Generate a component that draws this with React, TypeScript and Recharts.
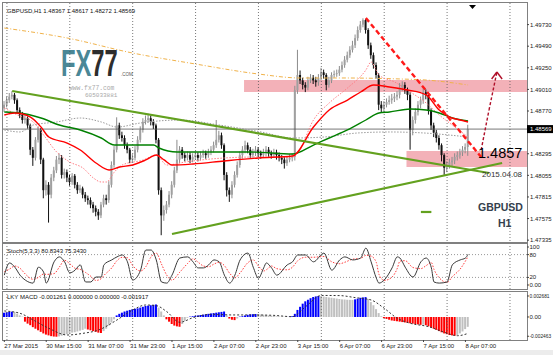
import React from 'react';
import { ComposedChart, Bar, Line, XAxis, YAxis, ReferenceLine, ReferenceArea, Cell } from 'recharts';

// GBPUSD H1, 27 Mar - 8 Apr 2015. prices kept in pips above 1.47000
const SLOTS = 200; // bar slots, incl. the empty shift area on the right
const FIRST_OPEN = 180;

const closePips = [
  184, 189, 193, 195, 189, 178, 173, 167, 169, 161,
  134, 125, 145, 156, 123, 89, 95, 84, 103, 111,
  123, 125, 106, 109, 103, 98, 105, 95, 89, 91,
  84, 80, 78, 73, 69, 65, 61, 73, 80, 78,
  95, 117, 134, 161, 150, 147, 139, 134, 123, 125,
  134, 145, 156, 165, 167, 169, 165, 161, 145, 89,
  61, 67, 73, 84, 95, 111, 123, 134, 128, 125,
  128, 123, 126, 128, 125, 128, 130, 128, 131, 134,
  139, 145, 150, 139, 106, 89, 84, 95, 106, 117,
  128, 134, 139, 134, 128, 131, 134, 130, 128, 131,
  134, 130, 128, 131, 128, 125, 123, 119, 123, 125,
  126, 200, 217, 211, 206, 203, 211, 214, 211, 209,
  214, 220, 217, 206, 211, 217, 218, 219, 223, 228,
  234, 239, 245, 250, 258, 267, 273, 278, 267, 250,
  239, 228, 217, 184, 180, 184, 187, 189, 191, 193,
  195, 203, 206, 200, 195, 156, 167, 176, 184, 189,
  198, 195, 178, 161, 153, 147, 139, 128, 114, 117,
  120, 122, 126, 128, 131, 134, 137, 156.9,
];
const highPips = [
  188, 193, 197, 199, 197, 191, 181, 176, 173, 171,
  163, 137, 148, 160, 158, 125, 100, 98, 107, 115,
  127, 130, 128, 113, 112, 106, 108, 107, 98, 95,
  93, 87, 83, 81, 76, 72, 68, 76, 84, 84,
  99, 121, 138, 170, 164, 154, 150, 142, 136, 129,
  138, 149, 160, 169, 172, 174, 172, 168, 163, 147,
  92, 72, 77, 88, 99, 115, 145, 138, 137, 131,
  132, 131, 130, 132, 131, 132, 134, 133, 135, 138,
  143, 167, 155, 153, 141, 109, 92, 99, 110, 121,
  132, 138, 144, 142, 137, 135, 138, 137, 133, 135,
  138, 137, 133, 135, 134, 131, 128, 126, 127, 129,
  130, 205, 245, 222, 214, 209, 215, 218, 217, 215,
  218, 225, 223, 219, 215, 220, 222, 223, 227, 232,
  238, 243, 249, 255, 262, 271, 277, 280, 279, 269,
  253, 242, 231, 219, 188, 188, 191, 194, 196, 197,
  199, 208, 210, 209, 203, 198, 171, 180, 188, 193,
  202, 201, 198, 180, 164, 156, 150, 141, 130, 121,
  124, 126, 130, 132, 135, 138, 141, 161.7,
];
const lowPips = [
  176, 181, 186, 190, 185, 175, 169, 163, 163, 157,
  128, 116, 122, 142, 118, 80, 83, 53, 80, 99,
  108, 118, 102, 102, 98, 94, 95, 91, 85, 86,
  80, 76, 73, 69, 64, 60, 56, 58, 70, 73,
  75, 92, 114, 131, 146, 143, 135, 130, 119, 120,
  122, 131, 142, 153, 162, 164, 161, 157, 141, 84,
  39, 55, 63, 70, 80, 92, 108, 119, 124, 121,
  122, 119, 120, 123, 121, 122, 125, 124, 125, 128,
  131, 136, 142, 135, 100, 82, 76, 80, 92, 103,
  114, 124, 130, 130, 124, 125, 127, 126, 124, 125,
  127, 126, 124, 125, 123, 121, 118, 113, 116, 120,
  121, 122, 196, 207, 201, 198, 200, 208, 207, 204,
  205, 211, 213, 200, 203, 208, 214, 215, 216, 220,
  225, 231, 236, 242, 247, 255, 264, 270, 263, 246,
  235, 224, 213, 178, 175, 176, 181, 184, 185, 187,
  189, 191, 199, 196, 189, 134, 150, 163, 172, 180,
  185, 190, 173, 156, 148, 142, 134, 121, 106, 109,
  113, 116, 118, 122, 124, 127, 130, 127.2,
];

// moving averages, read at a few bars each
const redMaAt = [0, 4, 10, 14, 17, 24, 29, 35, 40, 44, 49, 54, 58, 61, 64, 72, 84, 97, 110, 118, 124, 131, 136, 141, 147, 154, 161, 166, 170, 174, 177];
const redMa = [172.6, 174.8, 170.3, 159.2, 148.1, 141.4, 133.7, 119.2, 111.5, 114.8, 117, 122.6, 128.1, 122.6, 117, 118.1, 121.5, 124.8, 127, 159.2, 178.1, 189.2, 198.1, 205.9, 203.7, 200.3, 194.8, 178.1, 170.3, 167, 164.8];
const greenMaAt = [0, 6, 14, 21, 29, 37, 42, 49, 57, 59, 66, 75, 94, 110, 118, 124, 131, 138, 143, 147, 155, 161, 166, 171, 177];
const greenMa = [175.9, 174.8, 169.2, 161.4, 155.9, 147, 139.2, 139.2, 139.2, 135.9, 131.4, 131.4, 131.4, 129.2, 139.2, 147, 155.9, 167, 174.8, 175.9, 179.2, 178.1, 174.8, 169.2, 165.9];
const pinkMaAt = [0, 5, 11, 15, 20, 25, 30, 34, 37, 39, 42, 45, 53, 58, 62, 69, 84, 97, 110, 112, 118, 124, 131, 138, 140, 143, 149, 155, 161, 166, 172, 177];
const pinkMa = [180.3, 172.6, 164.8, 150.3, 131.4, 120.3, 113.7, 102.6, 98.1, 98.1, 109.2, 117, 122.6, 128.1, 117, 120.3, 124.8, 125.9, 125.9, 130.3, 167, 185.9, 202.6, 222.5, 231.4, 217, 209.2, 198.1, 185.9, 172.6, 159.2, 148.1];
const grayMaAt = [0, 6, 11, 20, 29, 37, 43, 52, 67, 82, 98, 110, 122, 135, 147, 160, 177];
const grayMa = [155.9, 153.7, 161.4, 164.8, 169.2, 164.8, 159.2, 163.7, 167, 161.4, 153.7, 147, 148.1, 152.6, 153.7, 152.6, 148.1];
const orangeMaAt = [0, 24, 49, 73, 97, 113, 128, 151, 161, 177];
const orangeMa = [269.2, 258.1, 241.4, 229.2, 218.1, 213.7, 213.7, 212.6, 211.4, 205.9];

// Stoch(5,3,3)
const stochAt = [
  0, 2, 4, 6, 8, 11, 13, 15, 16, 19, 21, 23, 25, 27, 29, 31, 33, 35, 37, 38,
  41, 43, 45, 47, 49, 52, 54, 56, 58, 60, 62, 64, 67, 70, 72, 74, 76, 78, 80, 82,
  84, 86, 88, 90, 93, 95, 97, 99, 100, 102, 104, 108, 110, 112, 115, 118, 122, 125, 128, 130,
  133, 136, 138, 140, 142, 143, 145, 148, 150, 151, 153, 156, 159, 161, 163, 164, 166, 169, 171, 174,
  176, 177,
];
const stochMain = [
  26, 58, 47, 26, 13, 5, 47, 34, 5, 61, 74, 61, 32, 39, 53, 8, 8, 21, 21, 53,
  66, 74, 79, 61, 13, 39, 92, 92, 66, 8, 5, 26, 71, 74, 61, 45, 45, 53, 66, 61,
  26, 5, 26, 66, 84, 47, 18, 45, 58, 45, 26, 53, 61, 79, 79, 61, 84, 39, 66, 74,
  66, 71, 97, 61, 18, 5, 13, 45, 74, 71, 47, 21, 61, 71, 45, 8, 5, 8, 53, 66,
  71, 80.8,
];
const stochSignal = [
  35, 42, 50, 44, 29, 15, 20, 29, 28, 30, 47, 65, 56, 44, 41, 33, 23, 12, 17, 25,
  45, 64, 73, 72, 51, 37, 48, 74, 84, 55, 26, 13, 34, 57, 69, 60, 50, 48, 55, 60,
  51, 31, 19, 32, 59, 66, 50, 37, 40, 50, 43, 40, 47, 64, 73, 73, 75, 61, 56, 60,
  68, 70, 78, 76, 59, 28, 12, 21, 44, 63, 64, 46, 43, 51, 59, 41, 19, 7, 22, 42,
  63, 75.3,
];

// LKY MACD, in units of 0.0001
const macdHist = [
  5.5, 6, 6.5, 6.8, 6.5, 4, 2, 0.5,
  -6, -8.5, -10.5, -13, -15, -17, -19, -21, -22.5, -23.5, -24.5, -25, -25.2,
  -24.8, -24, -23, -22, -21, -20, -19.5, -18.5, -17.5, -16.5, -15,
  -16, -17, -18, -19, -20, -20.5,
  -18, -15, -11, -7, -3,
  2, 4, 5.5, 7, 8, 9, 10, 10.5, 11, 12, 13, 14, 14.5, 15, 15.5, 16,
  12, 7, 2,
  -3, -6, -9, -11, -12, -12.5,
  -9, -5, -1,
  0.5, 1, 1.5, 2, 2.5, 3, 3.5, 4, 4.5, 5, 5.5, 6, 6.5, 7,
  2, -2, -3.5, -4, -2,
  0.5, 1, 2, 2.8, 3.4, 3.6, 3.8,
  3.5, 3.2, 2.8, 2.4, 2, 1.6, 1.2, 0.8,
  0.6, 0.4, 0.3, 0.2, 0.3,
  1, 4, 9, 13, 17, 20, 22, 24, 25.5, 26.3, 26.8,
  26.5, 26, 25.5, 25, 24.5, 24, 23.5, 23, 22.5, 22.3, 22, 21.9, 21.8,
  22.5, 23.5, 24.5, 25, 25.4,
  23, 19, 15, 10, 5, 1,
  -1.5, -2.5, -3.5, -4.5, -5, -5.5, -6, -6.5, -7, -7.5, -8, -8.5, -9, -9.5, -10,
  -9.8,
  -10.5, -12, -13.5, -15, -16.5, -18, -19.5, -21, -22, -23, -23.5, -24,
  -23, -21, -18.5, -15.5, -12.6,
];
const macdSignalAt = [0, 6, 11, 17, 24, 30, 36, 43, 49, 54, 58, 62, 67, 72, 79, 87, 94, 102, 110, 115, 121, 128, 134, 140, 145, 150, 155, 162, 168, 173, 177];
const macdSignal = [7.7, 4.7, -3.8, -14.5, -23, -20.9, -16.6, -3.8, 8.9, 15.3, 14.5, 6.8, -6.8, -0.9, 3.4, 2.6, 2.6, 2.2, 0.4, 13.2, 27.5, 27.3, 24.7, 21.7, 11.1, -1.7, -8.1, -12.4, -19.6, -23.9, -21];

// time axis
const dayStarts = [1, 25, 49, 73, 97, 121, 145, 169, 193];
const timeTickAt = [0, 16, 32, 48, 64, 80, 96, 112, 128, 144, 160, 176];
const timeLabels = ['27 Mar 2015', '30 Mar 15:00', '31 Mar 07:00', '31 Mar 23:00', '1 Apr 15:00', '2 Apr 07:00', '2 Apr 23:00', '3 Apr 15:00', '6 Apr 07:00', '6 Apr 23:00', '7 Apr 15:00', '8 Apr 07:00'];

const CURRENT = 1.48569;
const priceTicks = [1.4973, 1.4949, 1.4925, 1.4901, 1.4877, CURRENT, 1.48295, 1.48055, 1.47815, 1.47575, 1.47335];
const stochTicks = [0, 20, 80, 100];
const macdTicks = [-24.63, 0, 26.81];
const macdTickLabels: Record<string, string> = { '-24.63': '-0.002463', '0': '0.00', '26.81': '0.002681' };

// drawn objects (bar index, price); zones run to the right edge
const zoneHigh = { x1: 92, y1: 1.48981, y2: 1.49114 };
const zoneLow = { x1: 154, y1: 1.48148, y2: 1.48326 };
const greenTrends = [
  [{ x: 3, y: 1.48992 }, { x: 185, y: 1.48081 }],
  [{ x: 64, y: 1.47403 }, { x: 190, y: 1.48192 }],
  [{ x: 159, y: 1.47648 }, { x: 163, y: 1.47648 }],
];
const redTrend = [{ x: 138, y: 1.49803 }, { x: 182, y: 1.48259 }];
const arrowPath = [
  [{ x: 182, y: 1.48337 }, { x: 185, y: 1.48781 }],
  [{ x: 185, y: 1.48781 }, { x: 188, y: 1.49203 }],
  [{ x: 186, y: 1.49126 }, { x: 188, y: 1.49203 }],
  [{ x: 190, y: 1.49126 }, { x: 188, y: 1.49203 }],
];

const px = (p: number) => 1.47 + p / 10000;

const rows: any[] = Array.from({ length: SLOTS }, (_, i) => {
  const row: any = { i };
  if (i < closePips.length) {
    row.o = px(i === 0 ? FIRST_OPEN : closePips[i - 1]);
    row.c = px(closePips[i]);
    row.h = px(highPips[i]);
    row.l = px(lowPips[i]);
    row.range = [row.l, row.h];
    row.hist = macdHist[i];
  }
  return row;
});
const put = (at: number[], vals: number[], key: string, f = (v: number) => v) =>
  at.forEach((idx, k) => { rows[idx][key] = f(vals[k]); });
put(redMaAt, redMa, 'maRed', px);
put(greenMaAt, greenMa, 'maGreen', px);
put(pinkMaAt, pinkMa, 'maPink', px);
put(grayMaAt, grayMa, 'maGray', px);
put(orangeMaAt, orangeMa, 'maOrange', px);
put(stochAt, stochMain, 'stMain');
put(stochAt, stochSignal, 'stSig');
put(macdSignalAt, macdSignal, 'mSig');

const histColor = (i: number) => {
  const v = macdHist[i];
  const prev = i > 0 ? macdHist[i - 1] : v;
  if (v >= prev) return v > 0 ? '#0000ff' : '#c0c0c0';
  return v < 0 ? '#ff0000' : '#c0c0c0';
};

const Candle = (props: any) => {
  const { x, y, width, height, payload } = props;
  if (!payload || payload.o == null || y == null) return null;
  const top = Math.min(y, y + height);
  const span = Math.abs(height);
  const rng = payload.h - payload.l;
  const py = (p: number) => top + (rng > 0 ? ((payload.h - p) / rng) * span : 0);
  const up = payload.c >= payload.o;
  const bTop = py(Math.max(payload.o, payload.c));
  const bBot = py(Math.min(payload.o, payload.c));
  const cx = x + width / 2;
  return (
    <g>
      <line x1={cx} x2={cx} y1={top} y2={top + span} stroke={up ? '#8c8c8c' : '#111'} strokeWidth={1} />
      <rect x={x} y={bTop} width={width} height={Math.max(bBot - bTop, 0.8)} fill={up ? '#a0a0a0' : '#111'} />
    </g>
  );
};

const PriceTick = (props: any) => {
  const { x, y, payload } = props;
  const v = payload.value;
  if (v === CURRENT) {
    return (
      <g>
        <rect x={x - 4} y={y - 4} width={27} height={8} fill="#000" />
        <text x={x - 1} y={y + 2.2} fontSize={6} fill="#fff">{v.toFixed(5)}</text>
      </g>
    );
  }
  return <text x={x - 1} y={y + 2.2} fontSize={6} fill="#222">{v.toFixed(5)}</text>;
};

const PlainTick = (props: any) => {
  const { x, y, payload } = props;
  const txt = macdTickLabels[String(payload.value)] ?? String(payload.value);
  const small = txt.length > 5;
  return <text x={x - 1.5} y={y + 2} fontSize={small ? 4.8 : 6} fill="#222">{txt}</text>;
};

const TimeTick = (props: any) => {
  const { x, y, payload } = props;
  const k = timeTickAt.indexOf(payload.value);
  return <text x={x} y={y + 3.5} fontSize={6} fill="#222">{timeLabels[k]}</text>;
};

const dayLines = (key: string) =>
  dayStarts.map((d) => (
    <ReferenceLine key={key + d} x={d} stroke="#555" strokeDasharray="1 2" strokeWidth={0.8} />
  ));

const frame = (top: number, height: number) => (
  <div style={{ position: 'absolute', left: 2, top, width: 526, height, border: '1px solid #808080', boxSizing: 'border-box' }} />
);

export default function App() {
  return (
    <div style={{ position: 'absolute', left: 0, top: 0, width: 553, height: 355, background: '#fff', overflow: 'hidden', fontFamily: '"Liberation Sans", Arial, sans-serif' }}>
      <svg width={553} height={355} style={{ position: 'absolute', left: 0, top: 0 }}>
        <g transform="translate(61,76) scale(0.66,1)">
          <text x={0} y={0} fontSize={36} fontWeight="bold">
            <tspan fill="#4a8796">FX</tspan>
            <tspan fill="#2d2d2d">77</tspan>
          </text>
        </g>
        <text x={121} y={76} fontSize={4.5} fill="#555">.COM</text>
        <text x={69} y={90} fontSize={6.3} fill="#a8a8a8" fontFamily='"Liberation Mono", monospace'>www.fx77.com</text>
        <text x={85} y={97} fontSize={6} fill="#a8a8a8" fontFamily='"Liberation Mono", monospace'>605033881</text>
      </svg>
      <div style={{ position: 'absolute', left: 0, top: 350, width: 553, height: 5, background: '#ececec' }} />
      {frame(2, 241)}
      {frame(243, 47)}
      {frame(291, 50)}

      <div style={{ position: 'absolute', left: 0, top: 0 }}>
        <ComposedChart width={553} height={242} data={rows} margin={{ top: 3, right: 0, bottom: 1, left: 3 }}>
          <XAxis dataKey="i" type="category" scale="band" hide />
          <YAxis orientation="right" width={26} domain={[1.473256, 1.4997]} allowDataOverflow ticks={priceTicks} interval={0}
            tick={<PriceTick />} tickSize={2} tickLine={{ stroke: '#444' }} axisLine={false} />
          <ReferenceArea {...zoneHigh} fill="#f09ea6" fillOpacity={0.8} stroke="none" />
          <ReferenceArea {...zoneLow} fill="#f09ea6" fillOpacity={0.8} stroke="none" />
          {dayLines('m')}
          <ReferenceLine y={CURRENT} stroke="#555" strokeWidth={0.8} />
          <Bar dataKey="range" barSize={2} shape={<Candle />} isAnimationActive={false} />
          <Line dataKey="maOrange" stroke="#f0b24a" strokeWidth={1} strokeDasharray="4 2 1 2" dot={false} activeDot={false} connectNulls type="monotone" isAnimationActive={false} />
          <Line dataKey="maGray" stroke="#9a9a9a" strokeWidth={1} strokeDasharray="1.5 1.5" dot={false} activeDot={false} connectNulls type="monotone" isAnimationActive={false} />
          <Line dataKey="maPink" stroke="#ff7f86" strokeWidth={1} strokeDasharray="1.5 1.5" dot={false} activeDot={false} connectNulls type="monotone" isAnimationActive={false} />
          <Line dataKey="maGreen" stroke="#008000" strokeWidth={1.4} dot={false} activeDot={false} connectNulls type="monotone" isAnimationActive={false} />
          <Line dataKey="maRed" stroke="#ff0000" strokeWidth={1.4} dot={false} activeDot={false} connectNulls type="monotone" isAnimationActive={false} />
          {greenTrends.map((seg, k) => (
            <ReferenceLine key={'g' + k} segment={seg} stroke="#63a11f" strokeWidth={2.2} />
          ))}
          <ReferenceLine segment={redTrend} stroke="#ff1a1a" strokeWidth={2.4} strokeDasharray="5 3" />
          {arrowPath.map((seg, k) => (
            <ReferenceLine key={'a' + k} segment={seg} stroke="#b0102a" strokeWidth={1.4} strokeDasharray={k < 2 ? '3 2' : undefined} />
          ))}
        </ComposedChart>
      </div>

      <div style={{ position: 'absolute', left: 0, top: 243 }}>
        <ComposedChart width={553} height={47} data={rows} margin={{ top: 1, right: 0, bottom: 1, left: 3 }}>
          <XAxis dataKey="i" type="category" scale="band" hide />
          <YAxis orientation="right" width={26} domain={[-10.5, 107.9]} allowDataOverflow ticks={stochTicks} interval={0}
            tick={<PlainTick />} tickSize={2} tickLine={{ stroke: '#444' }} axisLine={false} />
          {dayLines('s')}
          <ReferenceLine y={80} stroke="#999" strokeDasharray="1 2" />
          <ReferenceLine y={20} stroke="#999" strokeDasharray="1 2" />
          <Line dataKey="stSig" stroke="#ff3b3b" strokeWidth={1} strokeDasharray="1.5 1.5" dot={false} activeDot={false} connectNulls type="monotone" isAnimationActive={false} />
          <Line dataKey="stMain" stroke="#3a3a3a" strokeWidth={1} dot={false} activeDot={false} connectNulls type="monotone" isAnimationActive={false} />
        </ComposedChart>
      </div>

      <div style={{ position: 'absolute', left: 0, top: 290 }}>
        <ComposedChart width={553} height={65} data={rows} margin={{ top: 2, right: 0, bottom: 0, left: 3 }}>
          <XAxis dataKey="i" type="category" scale="band" ticks={timeTickAt} interval={0} tick={<TimeTick />}
            tickSize={2} tickLine={{ stroke: '#444' }} axisLine={false} height={15} />
          <YAxis orientation="right" width={26} domain={[-29.4, 31.9]} allowDataOverflow ticks={macdTicks} interval={0}
            tick={<PlainTick />} tickSize={2} tickLine={{ stroke: '#444' }} axisLine={false} />
          {dayLines('d')}
          <Bar dataKey="hist" barSize={2} isAnimationActive={false}>
            {rows.map((r, k) => (
              <Cell key={k} fill={k < macdHist.length ? histColor(k) : 'none'} />
            ))}
          </Bar>
          <Line dataKey="mSig" stroke="#333" strokeWidth={1} strokeDasharray="2 2" dot={false} activeDot={false} connectNulls type="monotone" isAnimationActive={false} />
        </ComposedChart>
      </div>

      <svg width={553} height={355} style={{ position: 'absolute', left: 0, top: 0, pointerEvents: 'none' }}>
        <text x={7} y={12.5} fontSize={6} fill="#111">GBPUSD,H1  1.48367 1.48617 1.48272 1.48569</text>
        <text x={7} y={253} fontSize={6} fill="#111">Stoch(5,3,3) 80.8343 75.3430</text>
        <text x={7} y={299} fontSize={6} fill="#111">LKY MACD -0.001261 0.000000 0.000000 -0.001917</text>
        <polygon points="469,5 476,5 472.5,9" fill="#000" />
        <text x={478} y={158} fontSize={14.5} fill="#000">1.4857</text>
        <text x={482} y={177} fontSize={8} fill="#333">2015.04.08</text>
        <text x={478} y={211} fontSize={10.5} fontWeight="bold" fill="#34404c">GBPUSD</text>
        <text x={498} y={227} fontSize={10.5} fontWeight="bold" fill="#34404c">H1</text>
      </svg>
    </div>
  );
}
